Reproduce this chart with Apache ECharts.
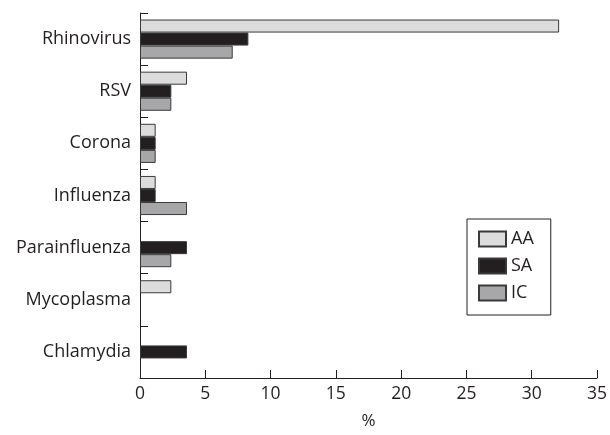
<!DOCTYPE html>
<html><head><meta charset="utf-8">
<script src="https://cdn.jsdelivr.net/npm/echarts@6/dist/echarts.min.js"></script>
<style>html,body{margin:0;padding:0;background:#fff}#c{width:610px;height:435px}</style>
</head><body><div id="c"></div>
<script>
const categories = ['Rhinovirus','RSV','Corona','Influenza','Parainfluenza','Mycoplasma','Chlamydia'];
const seriesNames = ['AA','SA','IC'];
const valuesAA = [32.1, 3.6, 1.2, 1.2, null, 2.4, null];
const valuesSA = [8.3, 2.4, 1.2, 1.2, 3.6, null, 3.6];
const valuesIC = [7.1, 2.4, 1.2, 3.6, 2.4, null, null];
const xTicks = [0,5,10,15,20,25,30,35];

const colors = ['#dcdcdd','#231f20','#a7a7a9'];
const font = '"Open Sans", sans-serif';
const chart = echarts.init(document.getElementById('c'));
const mk = (name, data, i) => ({
  name, type:'bar', data,
  barGap:'0%', barCategoryGap:'25%',
  itemStyle:{color:colors[i], borderColor:'#3a3a3a', borderWidth:1},
  animation:false
});
chart.setOption({
  animation:false,
  textStyle:{fontFamily:font},
  grid:{left:140,right:11,top:13,bottom:47,containLabel:false},
  legend:{
    orient:'vertical', left:467, top:219,
    data:seriesNames, icon:'rect', itemWidth:27, itemHeight:15, itemGap:9,
    padding:[11,17,13,11], borderColor:'#231f20', borderWidth:1,
    textStyle:{fontSize:18, color:'#231f20', fontFamily:font}
  },
  xAxis:{
    type:'value', min:xTicks[0], max:xTicks[xTicks.length-1], interval:5,
    name:'%', nameLocation:'middle', nameGap:35,
    nameTextStyle:{fontSize:17,color:'#231f20'},
    axisLine:{show:true,lineStyle:{color:'#231f20',width:1}},
    axisTick:{show:true,inside:true,length:8,lineStyle:{color:'#231f20'}},
    axisLabel:{fontSize:17.5,color:'#231f20',margin:7},
    splitLine:{show:false}
  },
  yAxis:{
    type:'category', data:categories, inverse:true,
    axisLine:{show:true,lineStyle:{color:'#231f20',width:1}},
    axisTick:{show:true,inside:true,length:8,lineStyle:{color:'#231f20'}},
    axisLabel:{fontSize:18,color:'#231f20',margin:9}
  },
  series:[mk('AA',valuesAA,0), mk('SA',valuesSA,1), mk('IC',valuesIC,2)]
});
</script></body></html>
